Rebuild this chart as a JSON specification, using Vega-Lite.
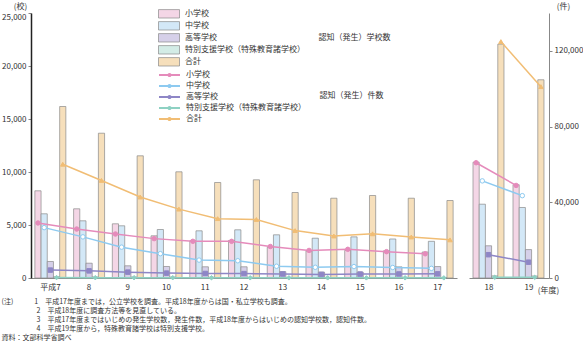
{
  "$schema": "https://vega.github.io/schema/vega-lite/v6.json",
  "padding": {"left": 1, "top": 2, "right": 0, "bottom": 0},
  "config": {
    "font": "Noto Sans CJK JP",
    "view": {"stroke": null},
    "axis": {"labelFont": "Noto Sans CJK JP", "labelFontSize": 8, "labelColor": "#333", "grid": false, "titleFont": "Noto Sans CJK JP", "titleFontSize": 8, "titleFontWeight": "normal", "titleColor": "#333"},
    "legend": {"labelFont": "Noto Sans CJK JP", "labelFontSize": 8, "labelColor": "#333", "titleFont": "Noto Sans CJK JP", "titleFontSize": 8, "titleFontWeight": "normal", "titleColor": "#333"}
  },
  "datasets": {
    "d": [
      {"year": "平成7", "period": "A", "cat": "小学校", "schools": 8226, "cases": 29069},
      {"year": "平成7", "period": "A", "cat": "中学校", "schools": 6057, "cases": 26614},
      {"year": "平成7", "period": "A", "cat": "高等学校", "schools": 1557, "cases": 4184},
      {"year": "平成7", "period": "A", "cat": "特別支援学校（特殊教育諸学校）", "schools": 120, "cases": 229},
      {"year": "平成7", "period": "A", "cat": "合計", "schools": 16179, "cases": 60096},
      {"year": "8", "period": "A", "cat": "小学校", "schools": 6528, "cases": 25862},
      {"year": "8", "period": "A", "cat": "中学校", "schools": 5396, "cases": 21733},
      {"year": "8", "period": "A", "cat": "高等学校", "schools": 1396, "cases": 3771},
      {"year": "8", "period": "A", "cat": "特別支援学校（特殊教育諸学校）", "schools": 100, "cases": 178},
      {"year": "8", "period": "A", "cat": "合計", "schools": 13660, "cases": 51544},
      {"year": "9", "period": "A", "cat": "小学校", "schools": 5113, "cases": 23234},
      {"year": "9", "period": "A", "cat": "中学校", "schools": 4925, "cases": 16294},
      {"year": "9", "period": "A", "cat": "高等学校", "schools": 1151, "cases": 3103},
      {"year": "9", "period": "A", "cat": "特別支援学校（特殊教育諸学校）", "schools": 90, "cases": 159},
      {"year": "9", "period": "A", "cat": "合計", "schools": 11528, "cases": 42790},
      {"year": "10", "period": "A", "cat": "小学校", "schools": 3981, "cases": 20801},
      {"year": "10", "period": "A", "cat": "中学校", "schools": 4575, "cases": 12858},
      {"year": "10", "period": "A", "cat": "高等学校", "schools": 1085, "cases": 2576},
      {"year": "10", "period": "A", "cat": "特別支援学校（特殊教育諸学校）", "schools": 90, "cases": 161},
      {"year": "10", "period": "A", "cat": "合計", "schools": 10019, "cases": 36396},
      {"year": "11", "period": "A", "cat": "小学校", "schools": 3509, "cases": 19383},
      {"year": "11", "period": "A", "cat": "中学校", "schools": 4453, "cases": 9462},
      {"year": "11", "period": "A", "cat": "高等学校", "schools": 1057, "cases": 2391},
      {"year": "11", "period": "A", "cat": "特別支援学校（特殊教育諸学校）", "schools": 80, "cases": 123},
      {"year": "11", "period": "A", "cat": "合計", "schools": 9010, "cases": 31359},
      {"year": "12", "period": "A", "cat": "小学校", "schools": 3538, "cases": 19371},
      {"year": "12", "period": "A", "cat": "中学校", "schools": 4547, "cases": 9114},
      {"year": "12", "period": "A", "cat": "高等学校", "schools": 1057, "cases": 2327},
      {"year": "12", "period": "A", "cat": "特別支援学校（特殊教育諸学校）", "schools": 70, "cases": 106},
      {"year": "12", "period": "A", "cat": "合計", "schools": 9264, "cases": 30918},
      {"year": "13", "period": "A", "cat": "小学校", "schools": 2900, "cases": 16635},
      {"year": "13", "period": "A", "cat": "中学校", "schools": 4075, "cases": 6206},
      {"year": "13", "period": "A", "cat": "高等学校", "schools": 600, "cases": 2119},
      {"year": "13", "period": "A", "cat": "特別支援学校（特殊教育諸学校）", "schools": 60, "cases": 77},
      {"year": "13", "period": "A", "cat": "合計", "schools": 8066, "cases": 25037},
      {"year": "14", "period": "A", "cat": "小学校", "schools": 2550, "cases": 14562},
      {"year": "14", "period": "A", "cat": "中学校", "schools": 3755, "cases": 5659},
      {"year": "14", "period": "A", "cat": "高等学校", "schools": 550, "cases": 1906},
      {"year": "14", "period": "A", "cat": "特別支援学校（特殊教育諸学校）", "schools": 60, "cases": 78},
      {"year": "14", "period": "A", "cat": "合計", "schools": 7528, "cases": 22205},
      {"year": "15", "period": "A", "cat": "小学校", "schools": 2600, "cases": 15159},
      {"year": "15", "period": "A", "cat": "中学校", "schools": 3880, "cases": 6051},
      {"year": "15", "period": "A", "cat": "高等学校", "schools": 550, "cases": 2070},
      {"year": "15", "period": "A", "cat": "特別支援学校（特殊教育諸学校）", "schools": 50, "cases": 71},
      {"year": "15", "period": "A", "cat": "合計", "schools": 7783, "cases": 23351},
      {"year": "16", "period": "A", "cat": "小学校", "schools": 2566, "cases": 13915},
      {"year": "16", "period": "A", "cat": "中学校", "schools": 3680, "cases": 5551},
      {"year": "16", "period": "A", "cat": "高等学校", "schools": 1050, "cases": 2121},
      {"year": "16", "period": "A", "cat": "特別支援学校（特殊教育諸学校）", "schools": 60, "cases": 84},
      {"year": "16", "period": "A", "cat": "合計", "schools": 7528, "cases": 21671},
      {"year": "17", "period": "A", "cat": "小学校", "schools": 2450, "cases": 12794},
      {"year": "17", "period": "A", "cat": "中学校", "schools": 3460, "cases": 5087},
      {"year": "17", "period": "A", "cat": "高等学校", "schools": 1080, "cases": 2191},
      {"year": "17", "period": "A", "cat": "特別支援学校（特殊教育諸学校）", "schools": 50, "cases": 71},
      {"year": "17", "period": "A", "cat": "合計", "schools": 7311, "cases": 20143},
      {"year": "18", "period": "B", "cat": "小学校", "schools": 10925, "cases": 60897},
      {"year": "18", "period": "B", "cat": "中学校", "schools": 6962, "cases": 51310},
      {"year": "18", "period": "B", "cat": "高等学校", "schools": 3040, "cases": 12307},
      {"year": "18", "period": "B", "cat": "特別支援学校（特殊教育諸学校）", "schools": 200, "cases": 384},
      {"year": "18", "period": "B", "cat": "合計", "schools": 22060, "cases": 124898},
      {"year": "19", "period": "B", "cat": "小学校", "schools": 8800, "cases": 48896},
      {"year": "19", "period": "B", "cat": "中学校", "schools": 6651, "cases": 43505},
      {"year": "19", "period": "B", "cat": "高等学校", "schools": 2680, "cases": 8355},
      {"year": "19", "period": "B", "cat": "特別支援学校（特殊教育諸学校）", "schools": 190, "cases": 341},
      {"year": "19", "period": "B", "cat": "合計", "schools": 18700, "cases": 101097}
    ]
  },
  "data": {"name": "d"},
  "title": {
    "text": [
      "(注)　　　1　平成17年度までは，公立学校を調査。平成18年度からは国・私立学校も調査。",
      "\u200b　　　　　2　平成18年度に調査方法等を見直している。",
      "\u200b　　　　　3　平成17年度まではいじめの発生学校数，発生件数，平成18年度からはいじめの認知学校数，認知件数。",
      "\u200b　　　　　4　平成19年度から，特殊教育諸学校は特別支援学校。",
      "資料：文部科学省調べ"
    ],
    "orient": "bottom", "anchor": "start", "frame": "bounds",
    "font": "Noto Sans CJK JP", "fontSize": 7, "fontWeight": "normal", "lineHeight": 9, "color": "#333", "offset": 4
  },
  "spacing": 12,
  "resolve": {"scale": {"fill": "independent", "stroke": "independent", "shape": "independent", "x": "independent", "y": "independent"}},
  "hconcat": [
    {
      "width": 426, "height": 265,
      "transform": [{"filter": "datum.period === 'A'"}],
      "layer": [
        {
          "mark": {"type": "bar", "stroke": "#8a8a8a", "strokeWidth": 0.7},
          "encoding": {
            "x": {"field": "year", "type": "ordinal", "sort": null, "scale": {"paddingInner": 0.2, "paddingOuter": 0.1},
                  "axis": {"title": null, "labelAngle": 0, "ticks": false, "domainColor": "#888", "labelPadding": 5}},
            "xOffset": {"field": "cat", "type": "nominal", "scale": {"domain": ["小学校", "中学校", "高等学校", "特別支援学校（特殊教育諸学校）", "合計"], "paddingInner": 0}},
            "y": {"field": "schools", "type": "quantitative", "scale": {"domain": [0, 25000], "nice": false},
                  "axis": {"title": "(校)", "titleAngle": 0, "titleX": -11, "titleY": -7, "titleAlign": "center", "titleBaseline": "middle",
                           "values": [0, 5000, 10000, 15000, 20000, 25000], "format": ",d", "domainColor": "#222", "domainWidth": 1.5,
                           "tickColor": "#888", "tickSize": 3, "labelPadding": 2,
                           "labelBaseline": {"condition": {"test": "datum.value === 25000", "value": "top"}, "value": "middle"}}},
            "fill": {"field": "cat", "type": "nominal",
                     "scale": {"domain": ["小学校", "中学校", "高等学校", "特別支援学校（特殊教育諸学校）", "合計"], "range": ["#f4d6e6", "#d3e8f7", "#d6d0e9", "#d3ece6", "#f6dfbb"]},
                     "legend": {"orient": "none", "legendX": 132.5, "legendY": -4.7, "title": "認知（発生）学校数", "titleOrient": "right", "titleAnchor": "middle", "titlePadding": 14,
                                "symbolType": "M-2.1,-0.84H2.1V0.84H-2.1Z", "symbolSize": 100, "symbolStrokeColor": "#8a8a8a", "symbolStrokeWidth": 0.7, "labelOffset": 10.5, "rowPadding": -1}}
          }
        },
        {
          "layer": [
            {
              "mark": {"type": "line", "strokeWidth": 1.5},
              "encoding": {
                "x": {"field": "year", "type": "ordinal", "sort": null},
                "xOffset": {"field": "cat", "type": "nominal", "scale": {"domain": ["小学校", "中学校", "高等学校", "特別支援学校（特殊教育諸学校）", "合計"]}},
                "y": {"field": "cases", "type": "quantitative", "scale": {"domain": [0, 140000], "nice": false}, "axis": null},
                "stroke": {"field": "cat", "type": "nominal",
                           "scale": {"domain": ["合計", "特別支援学校（特殊教育諸学校）", "高等学校", "中学校", "小学校"], "range": ["#f1bd74", "#8ed1c3", "#8e86c6", "#8dcaf0", "#e58bbb"]}}
              }
            },
            {
              "mark": {"type": "point", "filled": true, "size": 20, "strokeWidth": 1, "opacity": 1},
              "encoding": {
                "x": {"field": "year", "type": "ordinal", "sort": null},
                "xOffset": {"field": "cat", "type": "nominal"},
                "y": {"field": "cases", "type": "quantitative"},
                "stroke": {"field": "cat", "type": "nominal",
                           "legend": {"orient": "none", "legendX": 132.5, "legendY": 56, "title": "認知（発生）件数", "titleOrient": "right", "titleAnchor": "middle", "titlePadding": 14,
                                     "values": ["小学校", "中学校", "高等学校", "特別支援学校（特殊教育諸学校）", "合計"],
                                     "symbolType": "M-2.1,0H2.1M-0.24,0A0.24,0.24 0 1,0 0.24,0A0.24,0.24 0 1,0 -0.24,0Z",
                                     "symbolFillColor": "#ffffff", "symbolOpacity": 1,
                                     "symbolSize": 100, "symbolStrokeWidth": 1.8, "labelOffset": 10.5, "rowPadding": -1}},
                "fill": {"field": "cat", "type": "nominal", "scale": {"domain": ["小学校", "中学校", "高等学校", "特別支援学校（特殊教育諸学校）", "合計"], "range": ["#e58bbb", "#ffffff", "#8e86c6", "#8ed1c3", "#f1bd74"]}, "legend": null},
                "shape": {"field": "cat", "type": "nominal", "scale": {"domain": ["合計", "特別支援学校（特殊教育諸学校）", "高等学校", "中学校", "小学校"], "range": ["triangle-up", "diamond", "square", "circle", "circle"]}, "legend": null}
              }
            }
          ]
        }
      ],
      "resolve": {"scale": {"y": "independent", "fill": "independent"}, "legend": {"stroke": "independent", "fill": "independent"}}
    },
    {
      "width": 80, "height": 265,
      "transform": [{"filter": "datum.period === 'B'"}],
      "layer": [
        {
          "mark": {"type": "bar", "stroke": "#8a8a8a", "strokeWidth": 0.7},
          "encoding": {
            "x": {"field": "year", "type": "ordinal", "sort": null, "scale": {"paddingInner": 0.2, "paddingOuter": 0.1},
                  "axis": {"title": "(年度)", "titleX": 79, "titleY": 12, "titleAlign": "center", "titleBaseline": "middle", "labelAngle": 0, "ticks": false, "domainColor": "#888", "labelPadding": 5}},
            "xOffset": {"field": "cat", "type": "nominal", "scale": {"domain": ["小学校", "中学校", "高等学校", "特別支援学校（特殊教育諸学校）", "合計"], "paddingInner": 0}},
            "y": {"field": "schools", "type": "quantitative", "scale": {"domain": [0, 25000], "nice": false}, "axis": null},
            "fill": {"field": "cat", "type": "nominal",
                     "scale": {"domain": ["小学校", "中学校", "高等学校", "特別支援学校（特殊教育諸学校）", "合計"], "range": ["#f4d6e6", "#d3e8f7", "#d6d0e9", "#d3ece6", "#f6dfbb"]},
                     "legend": null}
          }
        },
        {
          "layer": [
            {
              "mark": {"type": "line", "strokeWidth": 1.5},
              "encoding": {
                "x": {"field": "year", "type": "ordinal", "sort": null},
                "xOffset": {"field": "cat", "type": "nominal", "scale": {"domain": ["小学校", "中学校", "高等学校", "特別支援学校（特殊教育諸学校）", "合計"]}},
                "y": {"field": "cases", "type": "quantitative", "scale": {"domain": [0, 140000], "nice": false},
                      "axis": {"orient": "right", "title": "(件)", "titleAngle": 0, "titleX": 14, "titleY": -7, "titleAlign": "center", "titleBaseline": "middle",
                               "values": [0, 20000, 40000, 60000, 80000, 100000, 120000, 140000], "format": ",d", "domainColor": "#888",
                               "tickColor": "#888", "tickSize": 3, "labelPadding": 2,
                               "labelBaseline": {"condition": {"test": "datum.value === 140000", "value": "top"}, "value": "middle"}}},
                "stroke": {"field": "cat", "type": "nominal",
                           "scale": {"domain": ["小学校", "中学校", "高等学校", "特別支援学校（特殊教育諸学校）", "合計"], "range": ["#e58bbb", "#8dcaf0", "#8e86c6", "#8ed1c3", "#f1bd74"]},
                           "legend": null}
              }
            },
            {
              "mark": {"type": "point", "filled": true, "size": 20, "strokeWidth": 1, "opacity": 1},
              "encoding": {
                "x": {"field": "year", "type": "ordinal", "sort": null},
                "xOffset": {"field": "cat", "type": "nominal"},
                "y": {"field": "cases", "type": "quantitative"},
                "stroke": {"field": "cat", "type": "nominal", "legend": null},
                "fill": {"field": "cat", "type": "nominal", "scale": {"domain": ["小学校", "中学校", "高等学校", "特別支援学校（特殊教育諸学校）", "合計"], "range": ["#e58bbb", "#ffffff", "#8e86c6", "#8ed1c3", "#f1bd74"]}, "legend": null},
                "shape": {"field": "cat", "type": "nominal", "scale": {"domain": ["小学校", "中学校", "高等学校", "特別支援学校（特殊教育諸学校）", "合計"], "range": ["circle", "circle", "square", "diamond", "triangle-up"]}, "legend": null}
              }
            }
          ]
        }
      ],
      "resolve": {"scale": {"y": "independent", "fill": "independent"}}
    }
  ]
}
